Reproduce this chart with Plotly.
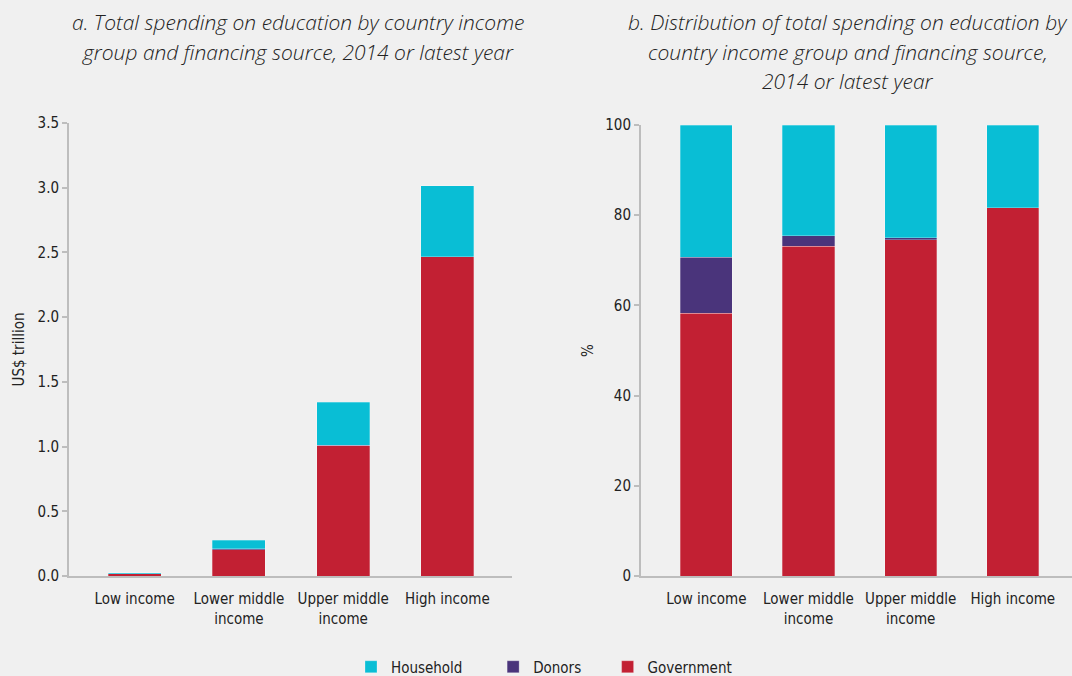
import plotly.graph_objects as go

categories = ["Low income", "Lower middle<br>income", "Upper middle<br>income", "High income"]

# Panel a: US$ trillion
gov_abs = [0.016, 0.203, 1.007, 2.468]
donors_abs = [0.003, 0.006, 0.004, 0.0]
household_abs = [0.008, 0.067, 0.331, 0.546]

# Panel b: percentage distribution
gov_pct = [58.3, 73.1, 74.6, 81.6]
donors_pct = [12.4, 2.3, 0.4, 0.0]
household_pct = [29.3, 24.6, 25.0, 18.4]

series = [
    ("Government", "#C22033", gov_abs, gov_pct),
    ("Donors", "#4A347B", donors_abs, donors_pct),
    ("Household", "#09BED5", household_abs, household_pct),
]
legend_pad = {"Government": "", "Donors": "\u00a0" * 5, "Household": "\u00a0" * 6}

W, H = 1072, 676
fig = go.Figure()
for name, color, a_vals, b_vals in series:
    fig.add_trace(go.Bar(
        x=categories, y=a_vals, name=name + legend_pad[name], marker_color=color,
        marker_line=dict(color="rgba(255,255,255,0.45)", width=0.6),
        width=0.51, xaxis="x", yaxis="y", legendgroup=name, showlegend=True,
    ))
    fig.add_trace(go.Bar(
        x=categories, y=b_vals, name=name, marker_color=color,
        marker_line=dict(color="rgba(255,255,255,0.45)", width=0.6),
        width=0.51, xaxis="x2", yaxis="y2", legendgroup=name, showlegend=False,
    ))

tickfont = dict(family="Liberation Sans Narrow, DejaVu Sans Condensed, sans-serif", size=15, color="#222")
axis_common = dict(showline=True, linecolor="#bdbdbd", linewidth=2, ticks="outside",
                   tickcolor="#bdbdbd", ticklen=5, tickwidth=1.5, showgrid=False,
                   zeroline=False, tickfont=tickfont, fixedrange=True, automargin=False)
xaxis_common = {k: v for k, v in axis_common.items() if k != "ticks"}
xaxis_common["ticklabelstandoff"] = 8

fig.update_layout(
    width=W, height=H, autosize=False,
    barmode="stack",
    paper_bgcolor="#f0f0f0", plot_bgcolor="#f0f0f0",
    margin=dict(l=0, r=0, t=0, b=0, pad=0, autoexpand=False),
    showlegend=True,
    legend=dict(orientation="h", x=0.5 + 8 / W, xanchor="center", y=1 - 667 / H, yanchor="middle",
                traceorder="reversed", font=tickfont, itemwidth=30,
                bgcolor="rgba(0,0,0,0)", tracegroupgap=0),
    xaxis=dict(domain=[69 / W, 512 / W], range=[-0.63, 3.62], ticks="", anchor="y", **xaxis_common),
    yaxis=dict(domain=[100 / H, 553 / H], range=[0, 3.5], dtick=0.5, tickformat=".1f",
               title=dict(text="US$ trillion", font=dict(family=tickfont["family"], size=15, color="#222"), standoff=9),
               anchor="x", **axis_common),
    xaxis2=dict(domain=[641 / W, 1.0], range=[-0.64, 3.58], ticks="", anchor="y2", **xaxis_common),
    yaxis2=dict(domain=[100 / H, 551 / H], range=[0, 100], dtick=20,
                title=dict(text="%", font=dict(family=tickfont["family"], size=15, color="#222"), standoff=8),
                anchor="x2", **axis_common),
)

title_font = dict(family="Open Sans, Lato, sans-serif", size=21, color="#222", weight=300)
title_a = ["a. Total spending on education by country income",
           "group and financing source, 2014 or latest year"]
title_b = ["b. Distribution of total spending on education by",
           "country income group and financing source,",
           "2014 or latest year"]
line_y = [22, 52, 81]
for lines, cx in ((title_a, 298), (title_b, 848)):
    for txt, yy in zip(lines, line_y):
        fig.add_annotation(text="<i>" + txt + "</i>", x=cx / W, y=1 - yy / H,
                           xref="paper", yref="paper", xanchor="center", yanchor="middle",
                           showarrow=False, font=title_font)

fig.write_html("out.html", config={"displayModeBar": False},
               post_script="document.body.style.margin='0';document.body.style.padding='0';")
